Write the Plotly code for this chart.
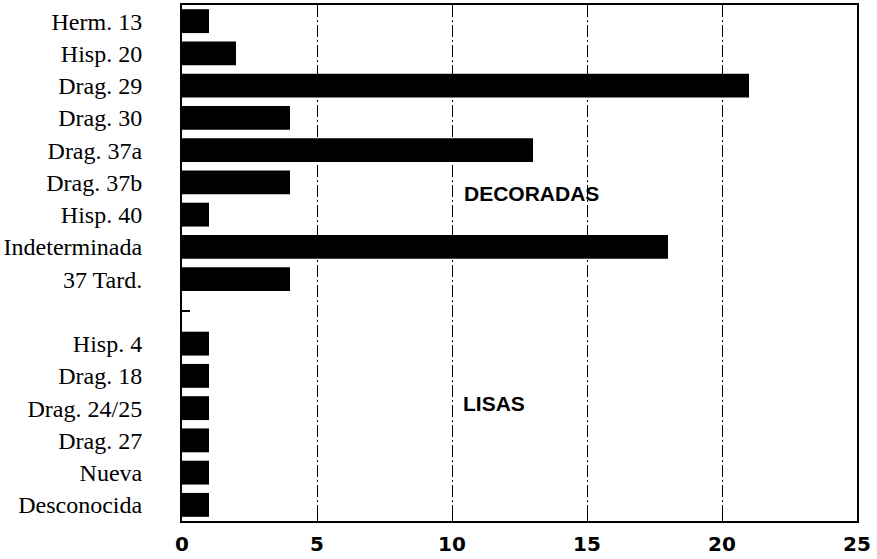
import plotly.graph_objects as go

categories = ["Herm. 13", "Hisp. 20", "Drag. 29", "Drag. 30", "Drag. 37a", "Drag. 37b",
              "Hisp. 40", "Indeterminada", "37 Tard.", " ",
              "Hisp. 4", "Drag. 18", "Drag. 24/25", "Drag. 27", "Nueva", "Desconocida"]
values = [1, 2, 21, 4, 13, 4, 1, 18, 4, None, 1, 1, 1, 1, 1, 1]
x_ticks = [0, 5, 10, 15, 20, 25]
group_labels = ["DECORADAS", "LISAS"]
group_label_x = [10.37, 10.33]
group_label_y = [5.35, 11.87]

fig = go.Figure()
fig.add_trace(go.Bar(
    x=values, y=categories, orientation="h",
    marker=dict(color="black", line=dict(width=0)),
    width=0.74, showlegend=False,
))

for txt, gx, gy in zip(group_labels, group_label_x, group_label_y):
    fig.add_annotation(x=gx, y=gy, xref="x", yref="y", text=txt, showarrow=False,
                       xanchor="left", yanchor="middle",
                       font=dict(family="Liberation Sans", size=21, color="black", weight="bold"))

fig.update_layout(
    width=877, height=559,
    margin=dict(l=182, r=20, t=5, b=38),
    paper_bgcolor="white", plot_bgcolor="white",
    bargap=0.26,
)
fig.update_xaxes(
    range=[0, 25], tickvals=x_ticks, ticktext=[str(v) for v in x_ticks],
    showgrid=True, gridcolor="black", gridwidth=1, griddash="12px,3px,2px,3px",
    showline=True, linecolor="black", linewidth=2, mirror=True,
    ticks="inside", ticklen=8, tickwidth=1, tickcolor="black",
    ticklabelstandoff=4, automargin=False,
    tickfont=dict(family="DejaVu Sans", size=20, color="black", weight="bold"),
    zeroline=False,
)
fig.update_yaxes(
    categoryorder="array", categoryarray=categories, autorange="reversed",
    showgrid=False, showline=True, linecolor="black", linewidth=2, mirror=True,
    ticks="inside", ticklen=8, tickwidth=2, tickcolor="black",
    ticklabelstandoff=33, automargin=False,
    tickfont=dict(family="Liberation Serif", size=24, color="black"),
)

fig.write_html("out.html", config={"displayModeBar": False},
               post_script="document.body.style.margin='0';document.body.style.overflow='hidden';")
